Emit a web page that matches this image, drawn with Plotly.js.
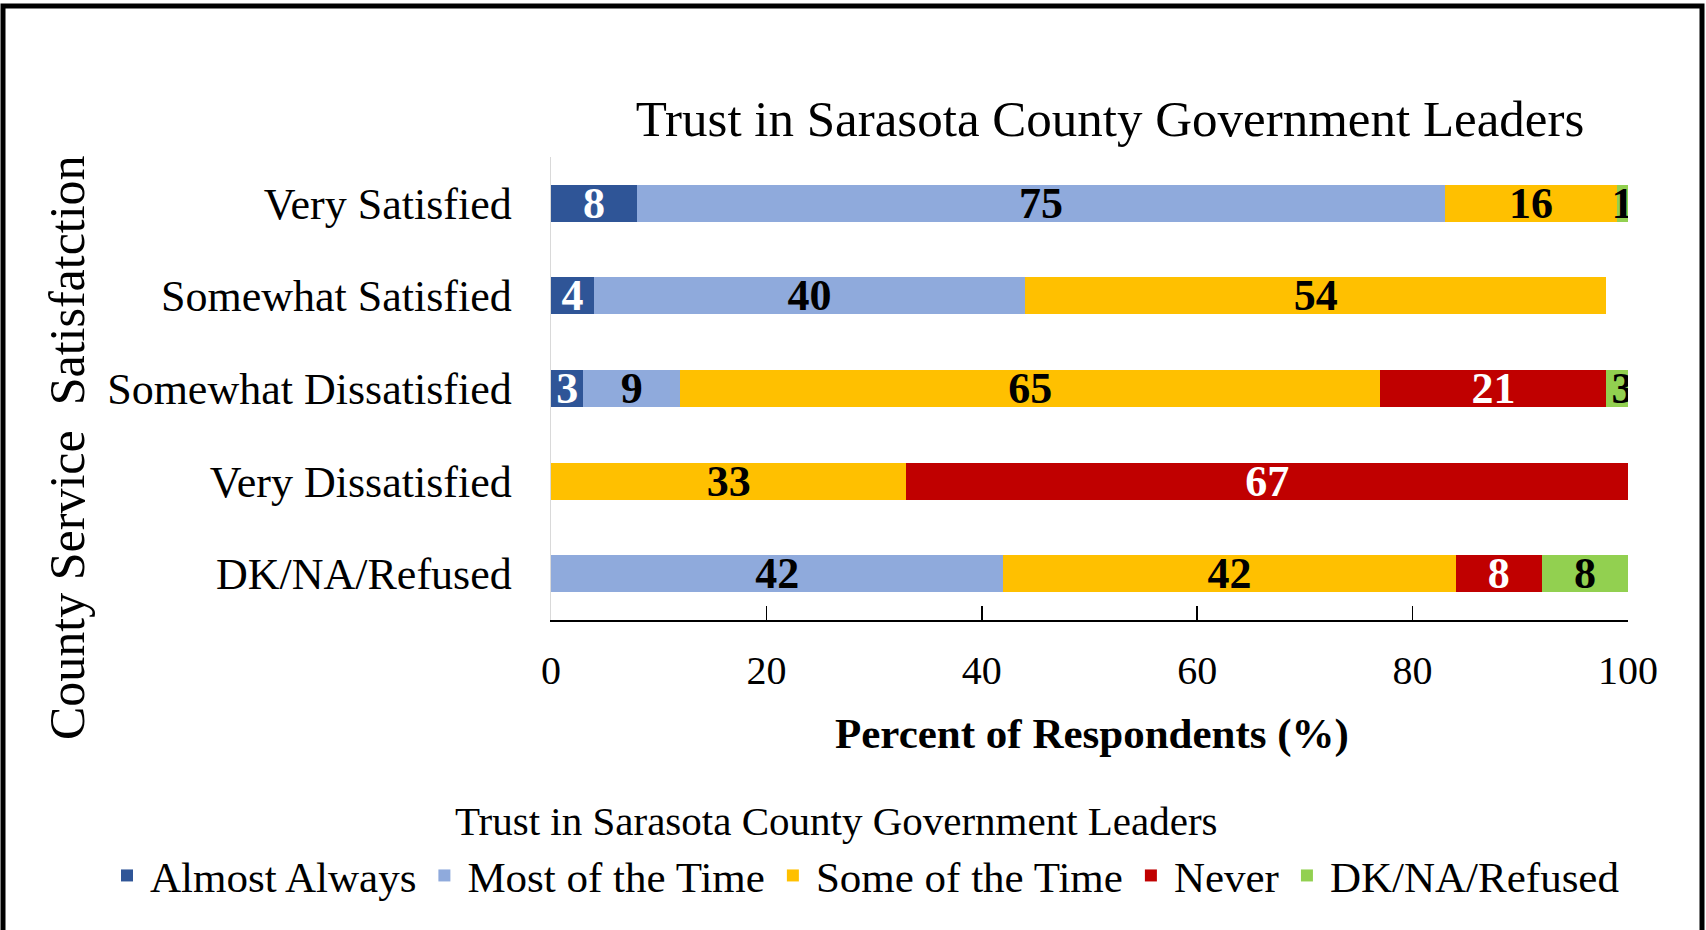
<!DOCTYPE html>
<html>
<head>
<meta charset="utf-8">
<script src="https://cdn.plot.ly/plotly-3.0.1.min.js"></script>
<style>
  html, body { margin: 0; padding: 0; background: #fff; }
  #chart { width: 1706px; height: 930px; }
</style>
</head>
<body>
<div id="chart"></div>
<script>
// Categorias (de cima para baixo no gráfico)
const categorias = ['Very Satisfied', 'Somewhat Satisfied', 'Somewhat Dissatisfied', 'Very Dissatisfied', 'DK/NA/Refused'];

// Percentuais por resposta
const almostAlways = [8, 4, 3, 0, 0];
const mostOfTheTime = [75, 40, 9, 0, 42];
const someOfTheTime = [16, 54, 65, 33, 42];
const never = [0, 0, 21, 67, 8];
const dkNaRefused = [1, 0, 3, 0, 8];

const series = [
    { name: 'Almost Always', values: almostAlways, color: '#2F5597', textColor: '#ffffff' },
    { name: 'Most of the Time', values: mostOfTheTime, color: '#8FAADC', textColor: '#000000' },
    { name: 'Some of the Time', values: someOfTheTime, color: '#FFC000', textColor: '#000000' },
    { name: 'Never', values: never, color: '#C00000', textColor: '#ffffff' },
    { name: 'DK/NA/Refused', values: dkNaRefused, color: '#92D050', textColor: '#000000' }
];

const fonte = 'Liberation Serif, Times New Roman, serif';

var dados = [];
series.forEach(s => {
    dados.push({
        type: 'bar',
        orientation: 'h',
        name: s.name,
        y: categorias,
        x: s.values,
        text: s.values.map(v => v > 0 ? String(v) : ''),
        textposition: 'inside',
        insidetextanchor: 'middle',
        constraintext: 'none',
        textangle: 0,
        textfont: { family: fonte, size: 44, color: s.textColor, weight: 'bold' },
        marker: { color: s.color, line: { width: 0 } },
        hoverinfo: 'skip'
    });
});

// conversão pixel -> paper (área do gráfico: x 551..1628, y 157..620)
const px = p => (p - 551) / 1077;
const py = p => (620 - p) / 463;

const layout = {
    barmode: 'stack',
    bargap: 0.6,
    width: 1706,
    height: 930,
    margin: { l: 551, r: 78, t: 157, b: 310 },
    paper_bgcolor: '#ffffff',
    plot_bgcolor: '#ffffff',
    font: { family: fonte, color: '#000000' },
    title: {
        text: 'Trust in Sarasota County Government Leaders',
        font: { family: fonte, size: 51, color: '#000000' },
        xref: 'container', x: 1110 / 1706, xanchor: 'center',
        yref: 'container', y: 1 - 118 / 930, yanchor: 'middle'
    },
    xaxis: {
        range: [0, 100],
        tickvals: [0, 20, 40, 60, 80, 100],
        showgrid: false,
        zeroline: false,
        showline: true,
        linecolor: '#000000',
        linewidth: 2,
        ticks: 'inside',
        ticklen: 14,
        tickwidth: 1.5,
        tickcolor: '#000000',
        ticklabelstandoff: 14,
        tickfont: { family: fonte, size: 40, color: '#000000' },
        fixedrange: true
    },
    yaxis: {
        autorange: 'reversed',
        showgrid: false,
        zeroline: false,
        showline: true,
        linecolor: '#d9d9d9',
        linewidth: 1.5,
        ticks: '',
        ticklabelstandoff: 29,
        tickfont: { family: fonte, size: 44, color: '#000000' },
        fixedrange: true
    },
    showlegend: true,
    legend: {
        orientation: 'h',
        xref: 'paper', x: px(104), xanchor: 'left',
        yref: 'paper', y: py(841), yanchor: 'top',
        font: { family: fonte, size: 43, color: '#000000' },
        itemwidth: 36,
        traceorder: 'normal'
    },
    annotations: [
        {
            // título da legenda
            text: 'Trust in Sarasota County Government Leaders',
            xref: 'paper', yref: 'paper',
            x: px(836), y: py(821),
            xanchor: 'center', yanchor: 'middle',
            showarrow: false,
            font: { family: fonte, size: 41, color: '#000000' }
        },
        {
            text: 'County Service  Satisfatction',
            textangle: -90,
            xref: 'paper', yref: 'paper',
            x: px(67), y: py(448),
            xanchor: 'center', yanchor: 'middle',
            showarrow: false,
            font: { family: fonte, size: 50, color: '#000000' }
        },
        {
            text: '<b>Percent of Respondents (%)</b>',
            xref: 'paper', yref: 'paper',
            x: px(1092), y: py(734),
            xanchor: 'center', yanchor: 'middle',
            showarrow: false,
            font: { family: fonte, size: 43, color: '#000000' }
        }
    ],
    shapes: [
        {
            type: 'rect',
            xref: 'paper', yref: 'paper',
            x0: px(3), x1: px(1702), y0: py(940), y1: py(6),
            line: { color: '#000000', width: 5 },
            fillcolor: 'rgba(0,0,0,0)'
        }
    ]
};

Plotly.newPlot('chart', dados, layout, { displayModeBar: false, staticPlot: true });
</script>
</body>
</html>
